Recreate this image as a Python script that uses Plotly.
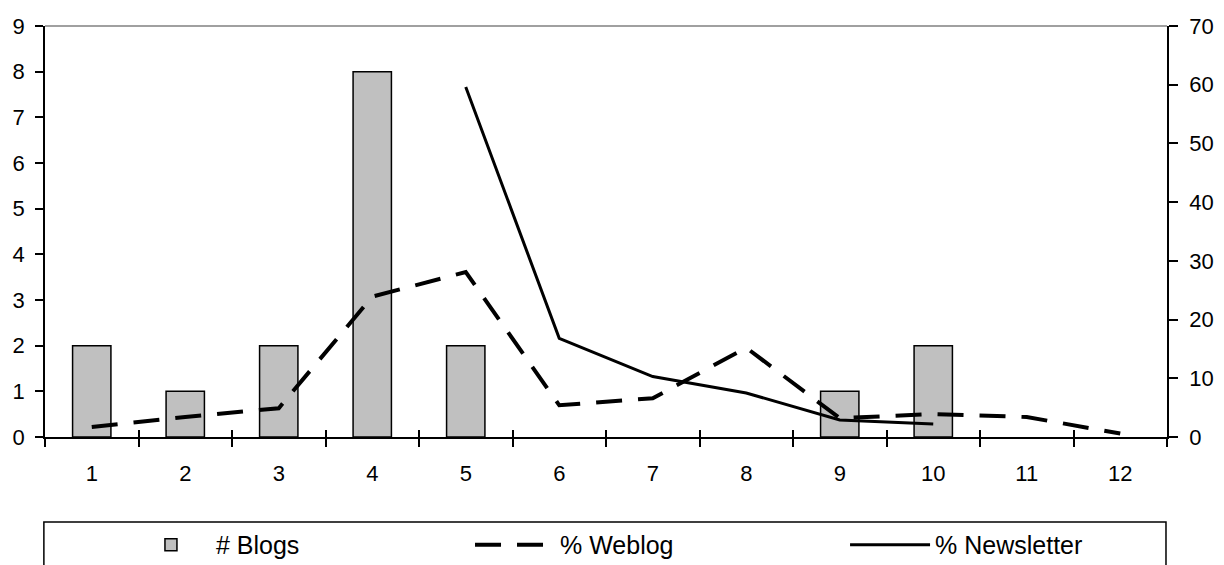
import plotly.graph_objects as go

categories = ["1", "2", "3", "4", "5", "6", "7", "8", "9", "10", "11", "12"]
blogs = [2, 1, 2, 8, 2, None, None, None, 1, 2, None, None]
weblog = [1.7, 3.4, 4.9, 23.9, 28.1, 5.4, 6.6, 15.2, 3.2, 3.9, 3.4, 0.6]
newsletter = [None, None, None, None, 59.6, 16.8, 10.3, 7.5, 2.9, 2.2, None, None]

left_ticks = list(range(0, 10))
right_ticks = list(range(0, 80, 10))

FONT = "Liberation Sans, Arial, sans-serif"

fig = go.Figure()
fig.add_trace(go.Bar(
    x=categories, y=blogs, name="# Blogs",
    marker=dict(color="#c0c0c0", line=dict(color="black", width=1.5)),
    xaxis="x", yaxis="y", legend="legend",
))
fig.add_trace(go.Scatter(
    x=categories, y=weblog, name="% Weblog", mode="lines",
    line=dict(color="black", width=4, dash="26px,16px"),
    xaxis="x2", yaxis="y2", legend="legend2",
))
fig.add_trace(go.Scatter(
    x=categories, y=newsletter, name="% Newsletter", mode="lines",
    line=dict(color="black", width=3),
    xaxis="x2", yaxis="y2", connectgaps=False, legend="legend3",
))

base = dict(showgrid=False, zeroline=False, showline=True, linecolor="black",
            linewidth=1.5, tickcolor="black", tickwidth=1.5, automargin=False,
            tickfont=dict(family=FONT, size=22, color="black"))

leg_common = dict(orientation="h", xanchor="left", xref="container", yref="container",
                  y=0.0354, yanchor="middle",
                  bgcolor="rgba(0,0,0,0)", borderwidth=0, itemwidth=80,
                  font=dict(family=FONT, size=25, color="black"))

fig.update_layout(
    width=1224, height=565,
    margin=dict(l=45, r=57, t=26, b=128, autoexpand=False),
    paper_bgcolor="white", plot_bgcolor="white",
    font=dict(family=FONT, size=22, color="black"),
    bargap=0.59,
    showlegend=True,
    xaxis=dict(type="category", categoryarray=categories, categoryorder="array",
               range=[-0.5, 11.5], ticks="outside", tickson="boundaries",
               ticklen=8, ticklabelstandoff=16, **base),
    xaxis2=dict(type="category", categoryarray=categories, categoryorder="array",
                range=[-0.5, 11.5], overlaying="x", anchor="y", side="bottom",
                ticks="inside", tickson="boundaries", ticklen=7,
                showticklabels=False, **base),
    yaxis=dict(range=[0, 9], tickvals=left_ticks, ticks="outside", ticklen=8,
               ticklabelstandoff=6, **base),
    yaxis3=dict(range=[0, 9], tickvals=left_ticks, ticks="inside", ticklen=8,
                overlaying="y", anchor="x", side="left", showticklabels=False, **base),
    yaxis2=dict(range=[0, 70], tickvals=right_ticks, ticks="outside", ticklen=9,
                ticklabelstandoff=7, overlaying="y", anchor="x", side="right", **base),
    yaxis4=dict(range=[0, 70], tickvals=right_ticks, ticks="inside", ticklen=9,
                overlaying="y", anchor="x", side="right", showticklabels=False, **base),
    legend=dict(x=0.1029, **leg_common),
    legend2=dict(x=0.3840, **leg_common),
    legend3=dict(x=0.6904, **leg_common),
    shapes=[
        dict(type="line", xref="paper", yref="paper", x0=0, x1=1, y0=1, y1=1,
             line=dict(color="#808080", width=1.5)),
        dict(type="rect", xref="paper", yref="paper", x0=-0.001, x1=0.9991,
             y0=-0.36, y1=-0.2068, line=dict(color="black", width=1.5)),
    ],
)

fig.write_html("out.html", config={"displayModeBar": False},
               post_script="document.body.style.margin='0';")
